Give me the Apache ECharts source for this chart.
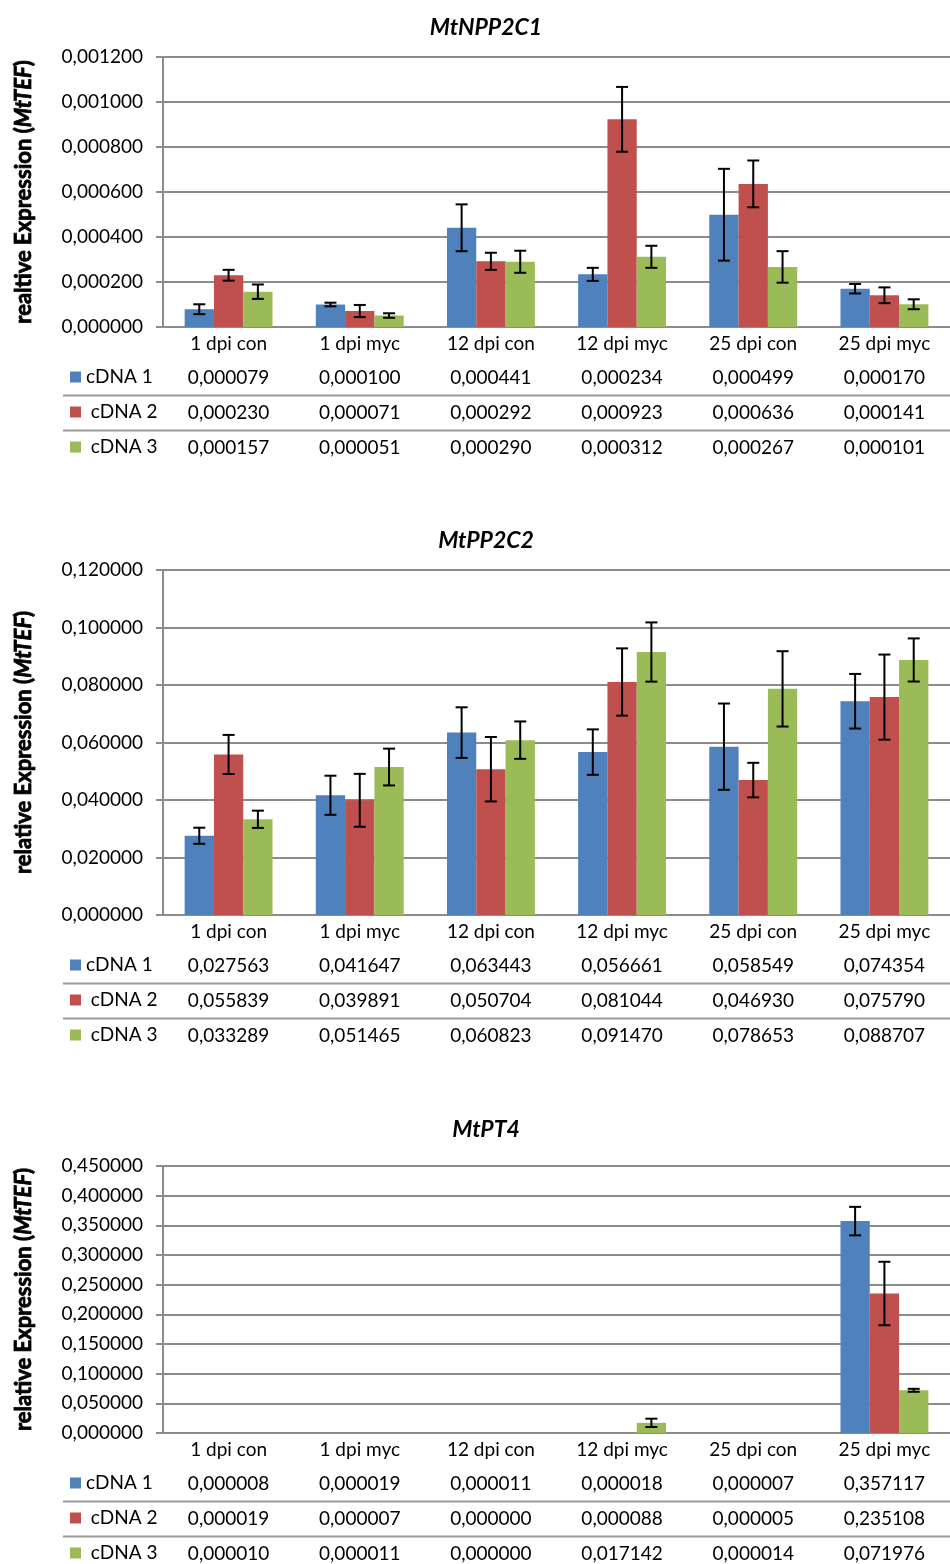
<!DOCTYPE html>
<html><head><meta charset="utf-8">
<script src="https://cdn.jsdelivr.net/npm/echarts@6/dist/echarts.min.js"></script>
<style>html,body{margin:0;padding:0;background:#fff}#c{width:950px;height:1564px}</style>
</head><body><div id="c"></div>
<script>
const categories = ['1 dpi con','1 dpi myc','12 dpi con','12 dpi myc','25 dpi con','25 dpi myc'];
const seriesNames = ['cDNA 1','cDNA 2','cDNA 3'];

// MtNPP2C1
const npp_c1 = [0.000079,0.000100,0.000441,0.000234,0.000499,0.000170];
const npp_c2 = [0.000230,0.000071,0.000292,0.000923,0.000636,0.000141];
const npp_c3 = [0.000157,0.000051,0.000290,0.000312,0.000267,0.000101];
const npp_e1 = [0.000022,0.000008,0.000104,0.000029,0.000204,0.000021];
const npp_e2 = [0.000024,0.000027,0.000038,0.000144,0.000104,0.000035];
const npp_e3 = [0.000032,0.000010,0.000049,0.000049,0.000070,0.000022];
const npp_ticks = [0,0.0002,0.0004,0.0006,0.0008,0.0010,0.0012];

// MtPP2C2
const pp_c1 = [0.027563,0.041647,0.063443,0.056661,0.058549,0.074354];
const pp_c2 = [0.055839,0.039891,0.050704,0.081044,0.046930,0.075790];
const pp_c3 = [0.033289,0.051465,0.060823,0.091470,0.078653,0.088707];
const pp_e1 = [0.0028,0.0068,0.0088,0.0079,0.0150,0.0095];
const pp_e2 = [0.0068,0.0092,0.0112,0.0117,0.0060,0.0148];
const pp_e3 = [0.0030,0.0064,0.0065,0.0103,0.0131,0.0075];
const pp_ticks = [0,0.02,0.04,0.06,0.08,0.10,0.12];

// MtPT4
const pt_c1 = [0.000008,0.000019,0.000011,0.000018,0.000007,0.357117];
const pt_c2 = [0.000019,0.000007,0.000000,0.000088,0.000005,0.235108];
const pt_c3 = [0.000010,0.000011,0.000000,0.017142,0.000014,0.071976];
const pt_e1 = [0,0,0,0,0,0.024];
const pt_e2 = [0,0,0,0,0,0.0535];
const pt_e3 = [0,0,0,0.007,0,0.0025];
const pt_ticks = [0,0.05,0.10,0.15,0.20,0.25,0.30,0.35,0.40,0.45];

const colors = ['#4F81BD','#C0504D','#9BBB59'];
const GRAY = '#8c8c8c';
const FONT = 'Lato';
const BAR_W = 29.3;
const fmt = v => v.toFixed(6).replace('.', ',');

const measureCtx = document.createElement('canvas').getContext('2d');
function textWidth(text, font) {
  measureCtx.font = font;
  return measureCtx.measureText(text).width;
}

const panels = [
  {title:'MtNPP2C1', yWord:'realtive', top:57, h:270, w:794, titleY:28,
   vals:[npp_c1,npp_c2,npp_c3], errs:[npp_e1,npp_e2,npp_e3], ticks:npp_ticks},
  {title:'MtPP2C2', yWord:'relative', top:570, h:345, w:797, titleY:541,
   vals:[pp_c1,pp_c2,pp_c3], errs:[pp_e1,pp_e2,pp_e3], ticks:pp_ticks},
  {title:'MtPT4', yWord:'relative', top:1166, h:267, w:797, titleY:1130,
   vals:[pt_c1,pt_c2,pt_c3], errs:[pt_e1,pt_e2,pt_e3], ticks:pt_ticks}
];

const grid = [], xAxis = [], yAxis = [], series = [], legend = [], graphic = [];

panels.forEach((p, pi) => {
  const bottom = p.top + p.h;
  grid.push({left:163, top:p.top, width:p.w, height:p.h});
  const mainX = xAxis.length;
  xAxis.push({
    type:'category', gridIndex:pi, data:categories, position:'bottom',
    axisLine:{show:true, lineStyle:{color:GRAY, width:2}},
    axisTick:{show:false},
    axisLabel:{interval:0, margin:7, fontFamily:FONT, fontSize:19, color:'#000'}
  });
  p.vals.forEach((arr, si) => {
    xAxis.push({
      type:'category', gridIndex:pi, data:categories, position:'bottom', offset:34 + 35*si,
      axisLine:{show:false}, axisTick:{show:false},
      axisLabel:{interval:0, margin:7, fontFamily:FONT, fontSize:19, color:'#000',
        formatter:(v, idx) => fmt(arr[idx])}
    });
  });
  const step = p.ticks[1] - p.ticks[0];
  yAxis.push({
    type:'value', gridIndex:pi, min:p.ticks[0], max:p.ticks[p.ticks.length-1], interval:step,
    axisLine:{show:true, lineStyle:{color:GRAY, width:2}},
    axisTick:{show:true, length:7, inside:false, lineStyle:{color:GRAY, width:2}},
    splitLine:{show:true, lineStyle:{color:GRAY, width:2}},
    axisLabel:{margin:20, fontFamily:FONT, fontSize:19, color:'#000', formatter:v => fmt(v)}
  });
  p.vals.forEach((arr, si) => {
    series.push({
      type:'bar', name:seriesNames[si], xAxisIndex:mainX, yAxisIndex:pi,
      data:arr, barWidth:BAR_W, barGap:'0%', itemStyle:{color:colors[si]}, z:2
    });
  });
  p.vals.forEach((arr, si) => {
    const errs = p.errs[si];
    series.push({
      type:'custom', xAxisIndex:mainX, yAxisIndex:pi, z:5, clip:false, silent:true,
      data:arr.map((v, i) => [i, v, errs[i]]),
      encode:{x:0, y:1},
      renderItem:(params, api) => {
        const e = api.value(2);
        if (!e) return null;
        const c = api.value(0), v = api.value(1);
        const x = api.coord([c, v])[0] + (si - 1) * BAR_W;
        const yt = api.coord([c, v + e])[1];
        const yb = api.coord([c, v - e])[1];
        const st = {stroke:'#000', lineWidth:2};
        return {type:'group', children:[
          {type:'line', shape:{x1:x, y1:yt, x2:x, y2:yb}, style:st},
          {type:'line', shape:{x1:x-6, y1:yt, x2:x+6, y2:yt}, style:st},
          {type:'line', shape:{x1:x-6, y1:yb, x2:x+6, y2:yb}, style:st}
        ]};
      }
    });
  });
  legend.push({
    orient:'vertical', left:70, top:bottom + 50 - 9.5, itemGap:16, padding:0,
    itemWidth:11, itemHeight:11, icon:'rect', selectedMode:false,
    data:seriesNames,
    formatter:n => n === 'cDNA 1' ? n : ' ' + n,
    textStyle:{fontFamily:FONT, fontSize:19, lineHeight:19, color:'#000'}
  });
  graphic.push({
    type:'text', x:486, y:p.titleY,
    style:{text:p.title, align:'center', verticalAlign:'middle', fontFamily:FONT, fontSize:23,
      fontWeight:'bold', fontStyle:'italic', fill:'#000'}
  });
  // rotated y-axis title: bold / bold italic / bold pieces, lightly stroked for weight
  const parts = [
    {t:p.yWord + ' Expression (', italic:false},
    {t:'MtTEF', italic:true},
    {t:')', italic:false}
  ];
  const widths = parts.map(pt => textWidth(pt.t, (pt.italic ? 'italic ' : '') + 'bold 22px ' + FONT));
  const total = widths.reduce((a, b) => a + b, 0);
  let yPos = p.top + p.h / 2 + total / 2;
  parts.forEach((pt, k) => {
    graphic.push({
      type:'text', x:24, y:yPos, rotation:Math.PI / 2,
      style:{text:pt.t, align:'left', verticalAlign:'middle', fontFamily:FONT, fontSize:22,
        fontWeight:'bold', fontStyle:pt.italic ? 'italic' : 'normal', fill:'#000',
        stroke:'#000', lineWidth:0.8}
    });
    yPos -= widths[k];
  });
  [68.5, 103.5].forEach(dy => {
    graphic.push({
      type:'line', shape:{x1:63, y1:bottom + dy, x2:950, y2:bottom + dy},
      style:{stroke:'#9a9a9a', lineWidth:2}
    });
  });
});

const chart = echarts.init(document.getElementById('c'), null, {renderer:'canvas'});
chart.setOption({
  animation:false, backgroundColor:'#fff',
  grid, xAxis, yAxis, series, legend, graphic
});
</script></body></html>
